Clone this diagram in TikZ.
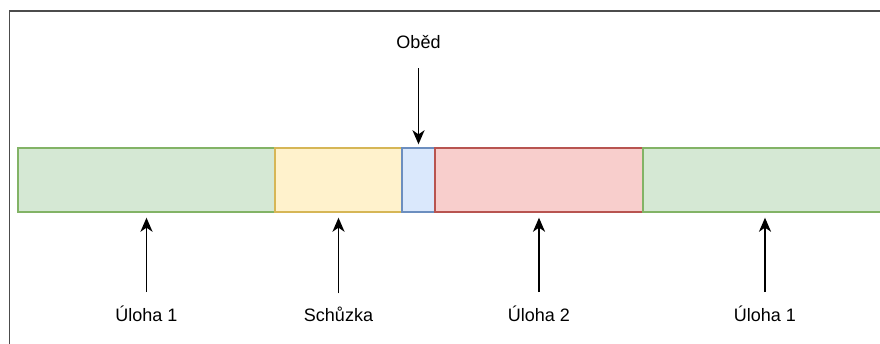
\documentclass[tikz,border=0pt]{standalone}
\usepackage{fontspec}
\setmainfont{Liberation Sans}
\usetikzlibrary{arrows.meta}

\definecolor{greenfill}{HTML}{D5E8D4}
\definecolor{greenline}{HTML}{82B366}
\definecolor{yellowfill}{HTML}{FFF2CC}
\definecolor{yellowline}{HTML}{D6B656}
\definecolor{bluefill}{HTML}{DAE8FC}
\definecolor{blueline}{HTML}{6C8EBF}
\definecolor{redfill}{HTML}{F8CECC}
\definecolor{redline}{HTML}{B85450}

\tikzset{
  slot/.style={draw, minimum height=64pt, inner sep=0pt, line width=1.4pt},
  lbl/.style={inner sep=0pt, font=\fontsize{18}{20}\selectfont},
  arr/.style={-{Stealth[length=14pt, width=12pt, inset=4pt]}, line width=1.8pt},
}

\begin{document}
\begin{tikzpicture}[x=1pt, y=-1pt]
  \clip (0,0) rectangle (880,344);
  \useasboundingbox (0,0) rectangle (880,344);

  % --- Rahmen ---
  \draw[black!70, line width=1.5pt] (9.5,11) rectangle (900,400);

  % --- Tagesablauf ---
  \node[slot, fill=greenfill, draw=greenline, minimum width=257pt] (s1) at (146.5,180) {};
  \node[slot, fill=yellowfill, draw=yellowline, minimum width=127pt] (s2) at (338.5,180) {};
  \node[slot, fill=bluefill, draw=blueline, minimum width=33pt] (s3) at (418.5,180) {};
  \node[slot, fill=redfill, draw=redline, minimum width=208pt] (s4) at (539,180) {};
  \node[slot, fill=greenfill, draw=greenline, minimum width=244pt] (s5) at (765,180) {};

  % --- Beschriftungen ---
  \node[lbl, anchor=base] (l3) at (418.5,49) {Oběd};
  \node[lbl, anchor=base] (l1) at (146.5,322) {Úloha 1};
  \node[lbl, anchor=base] (l2) at (338.5,322) {Schůzka};
  \node[lbl, anchor=base] (l4) at (539,322) {Úloha 2};
  \node[lbl, anchor=base] (l5) at (765,322) {Úloha 1};

  % --- Pfeile ---
  \draw[arr, shorten <=19pt, shorten >=3pt] (l3) -- (s3);
  \foreach \i in {1,2,4,5}{
    \draw[arr, shorten <=14pt, shorten >=5pt] (l\i) -- (s\i);
  }
\end{tikzpicture}
\end{document}
